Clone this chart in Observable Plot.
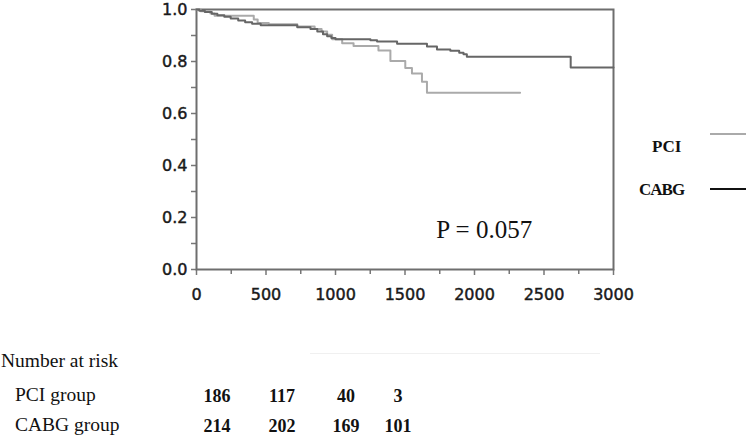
<!DOCTYPE html>
<html>
<head>
<meta charset="utf-8">
<script src="https://cdn.jsdelivr.net/npm/d3@7"></script>
<script src="https://cdn.jsdelivr.net/npm/@observablehq/plot@0.6"></script>
<style>
  html, body { margin: 0; padding: 0; background: #fff; }
  #wrap { position: relative; width: 750px; height: 445px; overflow: hidden; }
  .serif { font-family: "Liberation Serif", "Times New Roman", serif; color: #111; position: absolute; white-space: nowrap; }
  .leg { font-size: 17px; font-weight: bold; }
  .legline { position: absolute; height: 0; }
  .risk { font-size: 19.5px; }
  .num { font-size: 18px; font-weight: bold; transform: translateX(-50%); }
  g[aria-label="x-axis tick label"], g[aria-label="y-axis tick label"] { stroke: #1a1a1a; stroke-width: 0.45px; }
</style>
</head>
<body>
<div id="wrap"></div>
<script>
// ---- data ----
const pciTime = [0, 30, 100, 130, 412, 440, 520, 725, 850, 900, 940, 976, 1048, 1130, 1309, 1395, 1502, 1550, 1622, 1658, 2328];
const pciSurv = [1.0, 0.993, 0.985, 0.976, 0.962, 0.948, 0.943, 0.935, 0.925, 0.915, 0.903, 0.886, 0.870, 0.860, 0.842, 0.802, 0.775, 0.754, 0.722, 0.680, 0.680];
const cabgTime = [0, 20, 60, 110, 150, 200, 246, 300, 350, 400, 462, 725, 820, 869, 910, 940, 970, 1000, 1251, 1299, 1443, 1658, 1730, 1826, 1890, 1921, 1945, 2692, 3000];
const cabgSurv = [1.0, 0.995, 0.990, 0.984, 0.978, 0.972, 0.965, 0.958, 0.951, 0.945, 0.939, 0.932, 0.925, 0.915, 0.905, 0.897, 0.890, 0.886, 0.882, 0.877, 0.868, 0.858, 0.846, 0.841, 0.834, 0.828, 0.818, 0.777, 0.777];
const xTicks = [0, 500, 1000, 1500, 2000, 2500, 3000];
const xMinorTicks = [250, 750, 1250, 1750, 2250, 2750];
const yTicks = [0, 0.2, 0.4, 0.6, 0.8, 1.0];
const yMinorTicks = [0.1, 0.3, 0.5, 0.7, 0.9];
const groups = ["PCI", "CABG"];
const riskGroups = ["PCI group", "CABG group"];
const pciRisk = [186, 117, 40, 3];
const cabgRisk = [214, 202, 169, 101];
const riskTitle = "Number at risk";
const pValueText = "P = 0.057";
const pValuePos = { x: 2070, y: 0.123 };

// ---- build ----
const pci = pciTime.map((t, i) => ({ t, s: pciSurv[i] }));
const cabg = cabgTime.map((t, i) => ({ t, s: cabgSurv[i] }));

const axisColor = "#777";
const chart = Plot.plot({
  width: 750,
  height: 305,
  marginLeft: 196,
  marginRight: 137,
  marginTop: 9,
  marginBottom: 36,
  style: { fontFamily: "DejaVu Sans, Verdana, sans-serif", fontSize: "16px", color: "#1a1a1a", background: "transparent" },
  x: { domain: [0, 3000] },
  y: { domain: [0, 1] },
  marks: [
    Plot.axisX({ ticks: xTicks, tickSize: 6, tickPadding: 13, tickFormat: d => String(d), stroke: axisColor, strokeWidth: 1.5, label: null }),
    Plot.axisX({ ticks: xMinorTicks, tickSize: 5, text: null, stroke: axisColor, strokeWidth: 1.5, label: null }),
    Plot.axisY({ ticks: yTicks, tickSize: 5, tickPadding: 4, tickFormat: d3.format(".1f"), stroke: axisColor, strokeWidth: 1.5, label: null }),
    Plot.axisY({ ticks: yMinorTicks, tickSize: 5, text: null, stroke: axisColor, strokeWidth: 1.5, label: null }),
    Plot.frame({ stroke: "#6e6e6e", strokeWidth: 2 }),
    Plot.line(pci, { x: "t", y: "s", curve: "step-after", stroke: "#aaaaaa", strokeWidth: 2 }),
    Plot.line(cabg, { x: "t", y: "s", curve: "step-after", stroke: "#666666", strokeWidth: 2 }),
    Plot.text([pValuePos], { x: "x", y: "y", text: () => pValueText, textAnchor: "middle", lineAnchor: "bottom",
      fontFamily: "Liberation Serif, Times New Roman, serif", fontSize: 25, fill: "#111" })
  ]
});
chart.style.position = "absolute";
chart.style.left = "0px";
chart.style.top = "0px";
const wrap = document.getElementById("wrap");
wrap.appendChild(chart);

function add(cls, text, css) {
  const el = document.createElement("div");
  el.className = cls;
  el.textContent = text;
  Object.assign(el.style, css);
  wrap.appendChild(el);
  return el;
}

// legend
const legendLayout = [
  { textLeft: 652, textTop: 137, lineTop: 133, color: "#aaaaaa", spacing: "0px" },
  { textLeft: 639, textTop: 180, lineTop: 188, color: "#111111", spacing: "-1px" }
];
groups.forEach((g, i) => {
  const L = legendLayout[i];
  add("serif leg", g, { left: L.textLeft + "px", top: L.textTop + "px", letterSpacing: L.spacing });
  const ln = document.createElement("div");
  ln.className = "legline";
  Object.assign(ln.style, { left: "710px", width: "36px", top: L.lineTop + "px", borderTop: "2px solid " + L.color });
  wrap.appendChild(ln);
});

// risk table
add("serif risk", riskTitle, { left: "1px", top: "350px" });
const faint = document.createElement("div");
Object.assign(faint.style, { position: "absolute", left: "310px", width: "290px", top: "353px", borderTop: "1px solid #f0f0f0" });
wrap.appendChild(faint);
const colX = [217, 282, 346, 398];
const rowTop = [384, 414];
[pciRisk, cabgRisk].forEach((row, r) => {
  add("serif risk", riskGroups[r], { left: "15px", top: rowTop[r] + "px" });
  row.forEach((v, c) => add("serif num", String(v), { left: colX[c] + "px", top: (rowTop[r] + 2) + "px" }));
});
</script>
</body>
</html>
